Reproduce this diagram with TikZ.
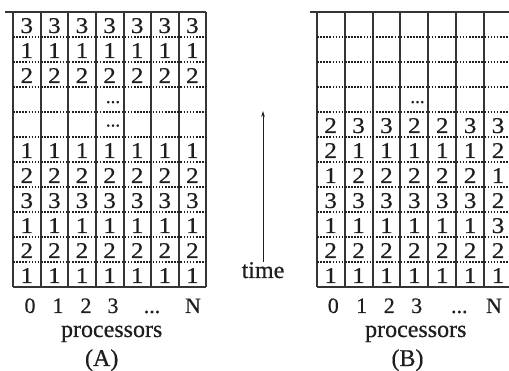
\documentclass[tikz,border=0pt]{standalone}
\usepackage{fontspec}
\usepackage{graphicx}
\setmainfont{Liberation Serif}[FakeBold=0.5]
\usetikzlibrary{arrows.meta}
\definecolor{ink}{HTML}{1E1E1E}
\newcommand\skipdots{...}
\newcommand\widedigit[1]{\scalebox{1.12}[1]{#1}}
\tikzset{
  cellnum/.style={font=\fontsize{22.5}{22.5}\selectfont, text=ink, anchor=base, inner sep=0pt},
  celldots/.style={font=\fontsize{19}{19}\selectfont, text=ink, anchor=base, inner sep=0pt, text height=3pt},
  axisnum/.style={font=\fontsize{22}{22}\selectfont, text=ink, anchor=base, inner sep=0pt},
  caption/.style={font=\fontsize{24}{24}\selectfont, text=ink, anchor=base, inner sep=0pt},
  gridline/.style={draw=ink!90, line width=1.3pt},
  rowline/.style={draw=ink, line width=1.4pt, dash pattern=on 1.6pt off 1.5pt},
}
\begin{document}
\begin{tikzpicture}[x=1pt, y=-1pt]
\useasboundingbox (0,0) rectangle (509,371);
\clip (0,0) rectangle (509,371);

% ---------- schedule (A): all processors in lock step ----------
\def\ax{13}\def\aw{27.6}
\draw[gridline] (5,12) -- (206,12);
\draw[gridline] (13,287) -- (206,287);
\foreach \x in {13,41,68,96,124,151,179,206}
  \draw[gridline] (\x,12) -- (\x,287);
\foreach \k in {1,...,10}
  \draw[rowline] (13,{12+25*\k}) -- (206,{12+25*\k});
\foreach \r/\d in {1/3,2/1,3/2,6/1,7/2,8/3,9/1,10/2,11/1}
  \foreach \c in {0,...,6}
    \node[cellnum] (a-\r-\c) at ({\ax+(\c+0.5)*\aw},{12+25*\r-4}) {\widedigit{\d}};
\node[celldots] (a-dots1) at (113,103) {\skipdots};
\node[celldots] (a-dots2) at (113,126.5) {\skipdots};

% ---------- schedule (B): staggered start ----------
\def\bx{316.7}\def\bw{27.9}
\draw[gridline] (310,12) -- (512,12);
\draw[gridline] (317,287) -- (512,287);
\foreach \x in {317,345,373,400,428,456,484,512}
  \draw[gridline] (\x,12) -- (\x,287);
\foreach \k in {1,...,10}
  \draw[rowline] (317,{12+25*\k}) -- (512,{12+25*\k});
\foreach \r/\vals in {5/{2,3,3,2,2,3,3},6/{2,1,1,1,1,1,2},7/{1,2,2,2,2,2,1},
                      8/{3,3,3,3,3,3,2},9/{1,1,1,1,1,1,3},10/{2,2,2,2,2,2,2},
                      11/{1,1,1,1,1,1,1}}
  \foreach \d [count=\c from 0] in \vals
    \node[cellnum] (b-\r-\c) at ({\bx+(\c+0.5)*\bw},{12+25*\r-4}) {\widedigit{\d}};
\node[celldots] (b-dots) at (417.5,103) {\skipdots};

% ---------- processor indices and captions ----------
\foreach \t/\x [count=\i] in {0/30,1/58,2/86,3/113,\skipdots/152,N/193}
  \node[axisnum] (a-idx-\i) at (\x,313) {\t};
\foreach \t/\x [count=\i] in {0/333.3,1/361.7,2/389.3,3/416.7,\skipdots/459.3,N/494}
  \node[axisnum] (b-idx-\i) at (\x,313) {\t};
\node[caption] (a-proc) at (111.7,337) {processors};
\node[caption] (b-proc) at (415.8,337) {processors};
\node[caption] (a-cap) at (101.7,366) {(A)};
\node[caption] (b-cap) at (407.5,366) {(B)};

% ---------- time axis ----------
\node[caption] (time) at (263,278) {time};
\coordinate (time-tip) at (263,111);
\draw[ink, line width=1pt, -{Stealth[length=6pt, width=3.6pt]}] (time.north) -- (time-tip);
\end{tikzpicture}
\end{document}
